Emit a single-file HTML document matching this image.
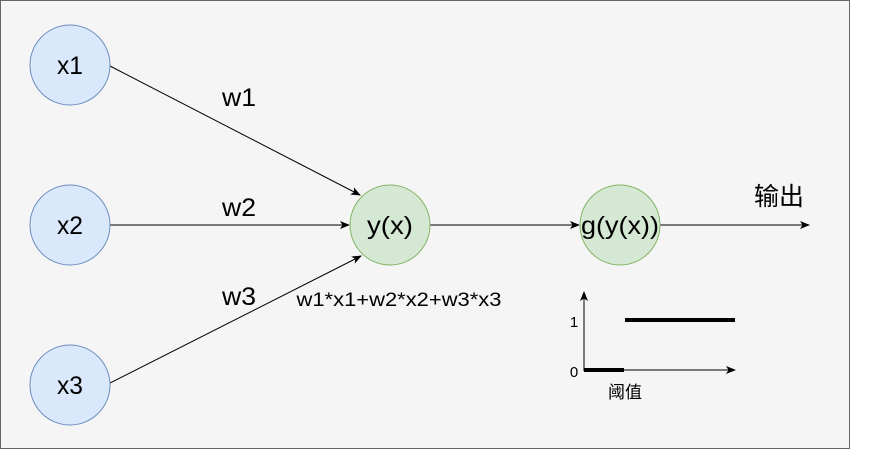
<!DOCTYPE html>
<html><head><meta charset="utf-8"><style>body{margin:0;background:#fff}</style></head><body>
<svg width="871" height="451" xmlns="http://www.w3.org/2000/svg" font-family="Liberation Sans, Noto Sans CJK SC, sans-serif">
<defs><marker id="a" markerWidth="10" markerHeight="8" refX="9" refY="4" orient="auto" markerUnits="userSpaceOnUse"><path d="M0,0 L10,4 L0,8 L2.5,4 Z" fill="#000"/></marker></defs>
<rect x="0.5" y="0.5" width="849" height="448" fill="#f5f5f5" stroke="#666"/>
<g stroke="#000" stroke-width="1" fill="none" marker-end="url(#a)">
<line x1="110" y1="66" x2="360" y2="195"/>
<line x1="110" y1="225" x2="349" y2="225"/>
<line x1="110" y1="383" x2="361" y2="256"/>
<line x1="430" y1="225" x2="579" y2="225"/>
<line x1="660" y1="225" x2="809" y2="225"/>
<line x1="584" y1="371" x2="584" y2="292"/>
<line x1="584" y1="370" x2="735" y2="370"/>
</g>
<g fill="#dae8fc" stroke="#6c8ebf"><circle cx="70" cy="65" r="40"/><circle cx="70" cy="225" r="40"/><circle cx="70" cy="385" r="40"/></g>
<g fill="#d5e8d4" stroke="#82b366"><circle cx="390" cy="225" r="40"/><circle cx="620" cy="225" r="40"/></g>
<g font-size="25" text-anchor="middle" fill="#000">
<text x="70" y="74" textLength="26" lengthAdjust="spacingAndGlyphs">x1</text>
<text x="70" y="234" textLength="26" lengthAdjust="spacingAndGlyphs">x2</text>
<text x="70" y="394" textLength="26" lengthAdjust="spacingAndGlyphs">x3</text>
<text x="390" y="234" textLength="46" lengthAdjust="spacingAndGlyphs">y(x)</text>
<text x="620" y="234" textLength="78" lengthAdjust="spacingAndGlyphs">g(y(x))</text>
<text x="239" y="106" textLength="34" lengthAdjust="spacingAndGlyphs">w1</text>
<text x="239" y="216" textLength="34" lengthAdjust="spacingAndGlyphs">w2</text>
<text x="239" y="305" textLength="34" lengthAdjust="spacingAndGlyphs">w3</text>
<text x="779" y="205">输出</text>
</g>
<text x="399" y="306" font-size="19" text-anchor="middle" textLength="205" lengthAdjust="spacingAndGlyphs">w1*x1+w2*x2+w3*x3</text>
<line x1="584" y1="370" x2="624" y2="370" stroke="#000" stroke-width="4"/>
<line x1="625" y1="320" x2="735" y2="320" stroke="#000" stroke-width="4"/>
<text x="574" y="327" font-size="15" text-anchor="middle">1</text>
<text x="574" y="377" font-size="15" text-anchor="middle">0</text>
<text x="625" y="398" font-size="17" text-anchor="middle">阈值</text>
</svg>
</body></html>
